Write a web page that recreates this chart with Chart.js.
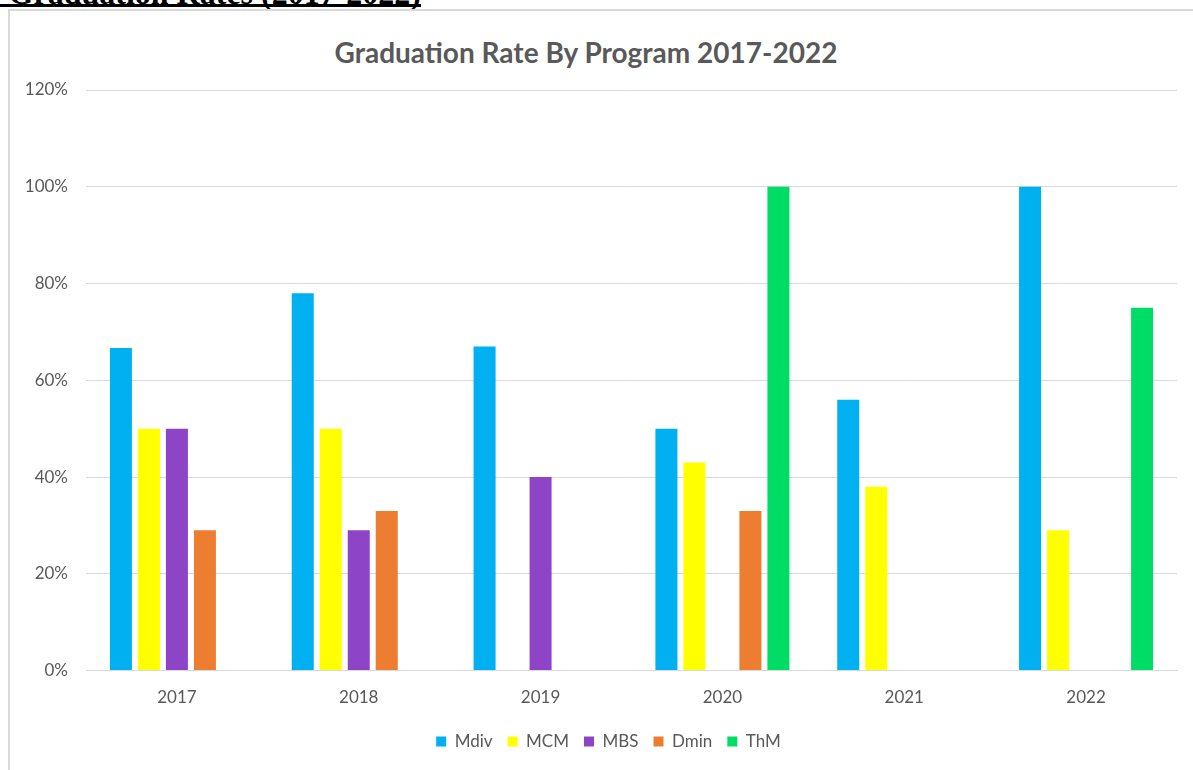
<!DOCTYPE html>
<html>
<head>
<meta charset="utf-8">
<script src="https://cdn.jsdelivr.net/npm/chart.js@4.4.1/dist/chart.umd.min.js"></script>
<style>
  html, body { margin: 0; padding: 0; background: #fff; width: 1193px; height: 770px; overflow: hidden; position: relative; }
  #hdr { position: absolute; top: -23px; right: 772px; font-family: "Liberation Serif", "Times New Roman", serif; font-weight: bold; font-size: 32px; line-height: 32px; white-space: nowrap; color: #000; }
  #hdrline { position: absolute; top: 4px; left: 0; width: 421px; height: 3px; background: #000; }
  #frame { position: absolute; left: 8px; top: 9px; width: 2000px; height: 2000px; border-left: 2px solid #d9d9d9; border-top: 2px solid #d9d9d9; }
  #title { position: absolute; top: 35px; left: 0; width: 1172px; text-align: center; font-family: Lato, "Open Sans", sans-serif; font-weight: bold; font-size: 28px; color: #595959; white-space: nowrap; }
  #wrap { position: absolute; left: 10px; top: 10px; width: 1197px; height: 750px; }
</style>
</head>
<body>
<div id="hdr">Graduation Rates (2017-2022)</div>
<div id="hdrline"></div>
<div id="frame"></div>
<div id="title">Graduation Rate By Program 2017-2022</div>
<div id="wrap"><canvas id="c"></canvas></div>
<script>
const categories = ["2017", "2018", "2019", "2020", "2021", "2022"];
const mdiv = [66.7, 78, 67, 50, 56, 100];
const mcm  = [50, 50, null, 43, 38, 29];
const mbs  = [50, 29, 40, null, null, null];
const dmin = [29, 33, null, 33, null, null];
const thm  = [null, null, null, 100, null, 75];
const seriesNames = ["Mdiv", "MCM", "MBS", "Dmin", "ThM"];
const seriesColors = ["#00B0F0", "#FFFF00", "#8E44C6", "#ED7D31", "#00DD66"];
const yTicks = [0, 20, 40, 60, 80, 100, 120];

const allSeries = [mdiv, mcm, mbs, dmin, thm];
const fontFamily = 'Lato, "Open Sans", sans-serif';

const legendShift = {
  id: 'legendShift',
  afterLayout(chart) {
    const lg = chart.legend;
    if (lg) { lg.left += 15; lg.right += 15; }
  }
};

new Chart(document.getElementById('c'), {
  type: 'bar',
  data: {
    labels: categories,
    datasets: allSeries.map((d, i) => ({
      label: seriesNames[i],
      data: d,
      backgroundColor: seriesColors[i],
      borderWidth: 0,
      barPercentage: 0.786,
      categoryPercentage: 0.77
    }))
  },
  plugins: [legendShift],
  options: {
    responsive: true,
    maintainAspectRatio: false,
    animation: false,
    layout: { padding: { top: 80, right: 30, left: 0, bottom: 0 } },
    plugins: {
      title: { display: false },
      tooltip: { enabled: false },
      legend: {
        position: 'bottom',
        labels: {
          boxWidth: 10, boxHeight: 10, padding: 15,
          color: '#595959',
          font: { family: fontFamily, size: 17 }
        }
      }
    },
    scales: {
      x: {
        afterFit: (s) => { s.height = s.height - 7; },
        grid: { display: false, drawTicks: false },
        border: { display: true, color: '#D9D9D9', width: 1 },
        ticks: { color: '#595959', padding: 17, font: { family: fontFamily, size: 17 } }
      },
      y: {
        min: 0, max: 120,
        afterFit: (s) => { s.width = 76; },
        afterBuildTicks: (s) => { s.ticks = yTicks.map(v => ({ value: v })); },
        grid: { color: '#D9D9D9', lineWidth: 1, drawTicks: false },
        border: { display: false },
        ticks: { color: '#595959', padding: 18, font: { family: fontFamily, size: 17 }, callback: (v) => v + '%' }
      }
    }
  }
});
</script>
</body>
</html>
